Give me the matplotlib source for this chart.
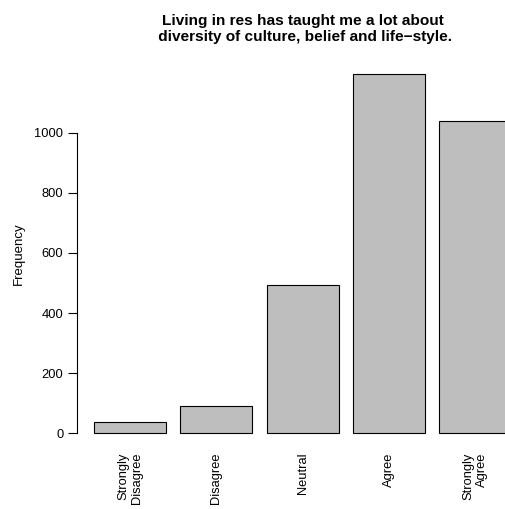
import numpy as np
import matplotlib.pyplot as plt

plt.rcParams['font.family'] = ['Liberation Sans', 'DejaVu Sans']

# responses and counts
categories = ['Strongly\nDisagree', 'Disagree', 'Neutral', 'Agree', 'Strongly\nAgree']
counts = [37, 90, 493, 1197, 1040]
yticks = [0, 200, 400, 600, 800, 1000]

W, H = 505, 509
fig = plt.figure(figsize=(W / 100, H / 100), dpi=100)

# plot region in pixels (mimics R barplot margins, right side runs off the figure)
left, right, top, bottom = 77.3, 528.0, 59.5, 447.4
ax = fig.add_axes([left / W, (H - bottom) / H, (right - left) / W, (bottom - top) / H])

# R barplot style positions: width 1, space 0.2
centers = 0.7 + 1.2 * np.arange(len(counts))
ax.bar(centers, counts, width=1.0, color='#BEBEBE', edgecolor='black', linewidth=0.8)

ax.set_xlim(-0.032, 6.232)
ax.set_ylim(-0.04 * max(counts), 1.04 * max(counts))

for s in ['top', 'right', 'bottom']:
    ax.spines[s].set_visible(False)
ax.spines['left'].set_bounds(0, 1000)
ax.spines['left'].set_linewidth(0.8)

ax.set_yticks(yticks)
ax.tick_params(axis='y', length=6.5, width=0.8, pad=3.5, labelsize=9.3)

ax.set_xticks(centers)
ax.set_xticklabels(categories, rotation=90, ha='center', va='top', multialignment='right', fontsize=9.3)
ax.tick_params(axis='x', length=0, pad=4)

ax.set_ylabel('Frequency', fontsize=9.5, labelpad=7)
ax.set_title('Living in res has taught me a lot about\n diversity of culture, belief and life\u2212style.',
             fontsize=11.1, fontweight='bold', pad=13.5)

fig.savefig('out.png', dpi=100)
